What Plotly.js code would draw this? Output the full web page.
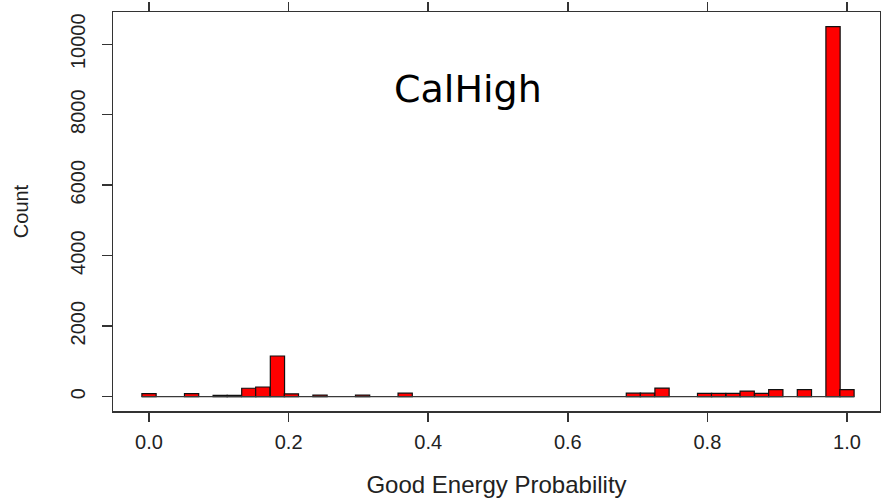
<!DOCTYPE html>
<html>
<head>
<meta charset="utf-8">
<script src="https://cdn.plot.ly/plotly-3.0.1.min.js"></script>
<style>
  html, body { margin: 0; padding: 0; background: #ffffff; }
  #chart { width: 881px; height: 498px; }
</style>
</head>
<body>
<div id="chart"></div>
<script>
// ---- data ----
const binCenters = [0.000, 0.061, 0.102, 0.122, 0.143, 0.163, 0.184, 0.204, 0.245, 0.306, 0.367,
                    0.694, 0.714, 0.735, 0.796, 0.816, 0.837, 0.857, 0.878, 0.898, 0.939, 0.980, 1.000];
const counts     = [85, 85, 40, 40, 240, 275, 1155, 80, 45, 45, 100,
                    100, 100, 245, 95, 95, 95, 160, 95, 200, 200, 10500, 200];
const xTickVals  = [0, 0.2, 0.4, 0.6, 0.8, 1.0];
const xTickText  = ['0.0', '0.2', '0.4', '0.6', '0.8', '1.0'];
const yTickVals  = [0, 2000, 4000, 6000, 8000, 10000];
const yTickText  = ['0', '2000', '4000', '6000', '8000', '10000'];
const chartTitle = 'CalHigh';
const xTitle     = 'Good Energy Probability';
const yTitle     = 'Count';

// ---- style constants ----
const BIN_WIDTH = 1 / 49;
const AXIS_COLOR = '#333333';
const FONT = 'Liberation Sans, Arial, sans-serif';

const baseline = {
  type: 'scatter', mode: 'lines',
  x: [binCenters[0] - BIN_WIDTH / 2, binCenters[binCenters.length - 1] + BIN_WIDTH / 2],
  y: [0, 0],
  line: { color: '#3a3a3a', width: 1.2 },
  hoverinfo: 'skip', showlegend: false
};

const bars = {
  type: 'bar',
  x: binCenters,
  y: counts,
  width: BIN_WIDTH,
  marker: { color: '#ff0000', line: { color: '#111111', width: 1.2 } },
  hoverinfo: 'skip', showlegend: false
};

const layout = {
  width: 881, height: 498,
  margin: { l: 113, r: 1, t: 12, b: 87, pad: 0 },
  paper_bgcolor: '#ffffff', plot_bgcolor: '#ffffff',
  showlegend: false,
  bargap: 0,
  font: { family: FONT, color: '#222222' },
  xaxis: {
    range: [-0.0516, 1.0473],
    tickmode: 'array', tickvals: xTickVals, ticktext: xTickText,
    ticks: 'outside', ticklen: 9, tickwidth: 1.5, tickcolor: AXIS_COLOR,
    showline: true, mirror: 'ticks', linecolor: AXIS_COLOR, linewidth: 1.5,
    showgrid: false, zeroline: false,
    ticklabelstandoff: 3,
    tickfont: { family: FONT, size: 20, color: '#222222' },
    title: { text: xTitle, font: { family: FONT, size: 24, color: '#222222' }, standoff: 25 },
    automargin: false, fixedrange: true
  },
  yaxis: {
    range: [-406, 10915],
    tickmode: 'array', tickvals: yTickVals, ticktext: yTickText,
    ticks: 'outside', ticklen: 10, tickwidth: 1.5, tickcolor: AXIS_COLOR,
    tickangle: -90,
    showline: true, mirror: true, linecolor: AXIS_COLOR, linewidth: 1.5,
    showgrid: false, zeroline: false,
    ticklabelstandoff: 9,
    tickfont: { family: FONT, size: 20, color: '#222222' },
    title: { text: yTitle, font: { family: FONT, size: 20, color: '#222222' }, standoff: 32 },
    automargin: false, fixedrange: true
  },
  annotations: [{
    text: chartTitle, xref: 'x', yref: 'y', x: 0.457, y: 8740,
    xanchor: 'center', yanchor: 'middle', showarrow: false,
    font: { family: 'DejaVu Sans, sans-serif', size: 38, color: '#000000' }
  }]
};

Plotly.newPlot('chart', [baseline, bars], layout, { staticPlot: true, displayModeBar: false });
</script>
</body>
</html>
